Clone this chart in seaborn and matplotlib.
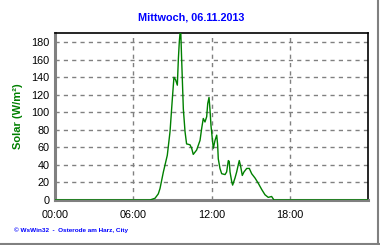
import matplotlib
matplotlib.use("Agg")
import matplotlib.pyplot as plt
from matplotlib.lines import Line2D
from matplotlib.ticker import MultipleLocator, FixedLocator
import seaborn as sns
import pandas as pd

title = "Mittwoch, 06.11.2013"
ylabel = "Solar (W/m²)"
footer = "© WsWin32  -  Osterode am Harz, City"
xtick_pos = [0, 6, 12, 18]
xtick_labels = ["00:00", "06:00", "12:00", "18:00"]

hours = [0.0, 7.28, 7.67, 7.92, 8.05, 8.31, 8.61, 8.82, 9.0, 9.12, 9.25, 9.38,
         9.46, 9.53, 9.63, 9.71, 9.84, 9.97, 10.09, 10.35, 10.48, 10.6, 10.86,
         11.12, 11.25, 11.37, 11.5, 11.63, 11.71, 11.81, 11.88, 11.96, 12.06,
         12.14, 12.27, 12.4, 12.47, 12.52, 12.65, 12.78, 13.04, 13.16, 13.29,
         13.36, 13.42, 13.55, 13.62, 13.8, 13.93, 14.05, 14.13, 14.24, 14.36,
         14.49, 14.7, 14.9, 15.08, 15.34, 15.59, 15.85, 16.1, 16.35, 16.61,
         16.79, 24.0]
solar = [0, 0, 2, 7, 13, 32, 51, 78, 116, 140, 137, 131,
         161, 180, 198, 161, 104, 78, 64, 63, 59, 52, 57,
         68, 82, 93, 89, 95, 110, 117, 104, 85, 70,
         59, 68, 74, 63, 47, 36, 30, 29, 32, 45,
         44, 32, 21, 17, 25, 32, 40, 45, 38, 28,
         32, 36, 36, 30, 25, 19, 12, 6, 3, 4,
         0, 0]

df = pd.DataFrame({"hour": hours, "solar": solar})

sns.set_style("white")
plt.rcParams["font.family"] = ["Liberation Sans", "DejaVu Sans"]

fig = plt.figure(figsize=(3.8, 2.45), dpi=100)
ax = fig.add_axes([55 / 380, 1 - 200 / 245, 313 / 380, 167 / 245])

sns.lineplot(data=df, x="hour", y="solar", color="#008000", linewidth=1.0, ax=ax, zorder=3)

ax.set_xlim(0, 24)
ax.set_ylim(0, 190.5)
ax.xaxis.set_major_locator(FixedLocator(xtick_pos))
ax.set_xticklabels(xtick_labels)
ax.xaxis.set_minor_locator(MultipleLocator(1))
ax.yaxis.set_major_locator(MultipleLocator(20))
ax.yaxis.set_minor_locator(MultipleLocator(5))

ax.grid(True, which="major", color="#808080", linestyle=(0, (3, 3)), linewidth=1.0)
ax.set_axisbelow(True)

for s in ["top", "right"]:
    ax.spines[s].set_color("black")
    ax.spines[s].set_linewidth(1.2)
for s in ["left", "bottom"]:
    ax.spines[s].set_color("#808080")
    ax.spines[s].set_linewidth(2.2)

ax.tick_params(axis="both", which="major", labelsize=7.8, colors="#808080",
               labelcolor="black", length=4, width=1, direction="inout", pad=2)
ax.tick_params(axis="both", which="minor", colors="#808080", length=3, width=1, direction="inout")
ax.tick_params(axis="x", which="major", pad=5)
ax.tick_params(axis="x", which="minor", direction="out", length=3)

ax.set_xlabel("")
ax.set_ylabel("")
fig.text(18 / 380, 1 - 116 / 245, ylabel, rotation=90, color="#008000",
         fontsize=8, fontweight="bold", ha="center", va="center")
fig.text(191 / 380, 1 - 17 / 245, title, color="#0000FF", fontsize=7.8,
         fontweight="bold", ha="center", va="center")
fig.text(14 / 380, 1 - 230 / 245, footer, color="#0000FF", fontsize=4.6,
         fontweight="bold", ha="left", va="center")

fig.add_artist(Line2D([377.5 / 380, 377.5 / 380], [0, 1], color="#808080", linewidth=1.5))
fig.add_artist(Line2D([0, 1], [1.5 / 245, 1.5 / 245], color="#808080", linewidth=1.5))

fig.savefig("out.png", dpi=100, facecolor="white")
